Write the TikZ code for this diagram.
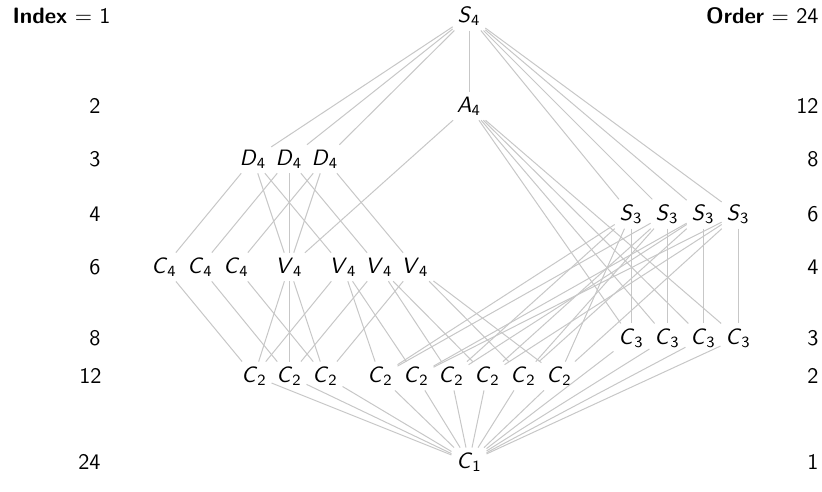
\documentclass[tikz,border=0pt]{standalone}
\newcommand\gr[2]{\textit{#1}\textsubscript{#2}}
\begin{document}
\begin{tikzpicture}[x=0.45pt,y=-0.45pt,
  grp/.style={font=\sffamily, inner sep=2pt},
  lat/.style={draw=black!22, line width=0.45pt},
  lbl/.style={font=\sffamily, anchor=east, inner sep=0pt}]
\useasboundingbox (0,0) rectangle (822,492);
% side labels
\node[lbl] (il1) at (111,16)  {\textbf{Index} $=$ 1};
\node[lbl] (il2) at (101,106) {2};
\node[lbl] (il3) at (101,159) {3};
\node[lbl] (il4) at (101,214) {4};
\node[lbl] (il6) at (101,267) {6};
\node[lbl] (il8) at (101,338) {8};
\node[lbl] (il12) at (102,376) {12};
\node[lbl] (il24) at (101,462) {24};
\node[lbl] (or24) at (819,16)  {\textbf{Order} $=$ 24};
\node[lbl] (or12) at (819,106) {12};
\node[lbl] (or8) at (819,159) {8};
\node[lbl] (or6) at (819,214) {6};
\node[lbl] (or4) at (819,267) {4};
\node[lbl] (or3) at (819,338) {3};
\node[lbl] (or2) at (819,376) {2};
\node[lbl] (or1) at (819,462) {1};
% groups
\node[grp] (S4) at (469,16) {\gr{S}{4}};
\node[grp] (A4) at (469,106) {\gr{A}{4}};
\node[grp] (D1) at (253,159) {\gr{D}{4}};
\node[grp] (D2) at (289,159) {\gr{D}{4}};
\node[grp] (D3) at (325,159) {\gr{D}{4}};
\node[grp] (S1) at (631,214) {\gr{S}{3}};
\node[grp] (S2) at (667,214) {\gr{S}{3}};
\node[grp] (S3) at (703,214) {\gr{S}{3}};
\node[grp] (S5) at (738,214) {\gr{S}{3}};
\node[grp] (Q1) at (164,267) {\gr{C}{4}};
\node[grp] (Q2) at (200,267) {\gr{C}{4}};
\node[grp] (Q3) at (236,267) {\gr{C}{4}};
\node[grp] (V1) at (289,267) {\gr{V}{4}};
\node[grp] (V2) at (343,267) {\gr{V}{4}};
\node[grp] (V3) at (379,267) {\gr{V}{4}};
\node[grp] (V4) at (415,267) {\gr{V}{4}};
\node[grp] (T1) at (631,338) {\gr{C}{3}};
\node[grp] (T2) at (667,338) {\gr{C}{3}};
\node[grp] (T3) at (703,338) {\gr{C}{3}};
\node[grp] (T4) at (738,338) {\gr{C}{3}};
\node[grp] (K1) at (254,376) {\gr{C}{2}};
\node[grp] (K2) at (289,376) {\gr{C}{2}};
\node[grp] (K3) at (325,376) {\gr{C}{2}};
\node[grp] (K4) at (380,376) {\gr{C}{2}};
\node[grp] (K5) at (416,376) {\gr{C}{2}};
\node[grp] (K6) at (451,376) {\gr{C}{2}};
\node[grp] (K7) at (487,376) {\gr{C}{2}};
\node[grp] (K8) at (523,376) {\gr{C}{2}};
\node[grp] (K9) at (559,376) {\gr{C}{2}};
\node[grp] (E) at (469,462) {\gr{C}{1}};
% edges
\foreach \a/\b in {S4/D1,S4/D2,S4/D3,S4/A4,S4/S1,S4/S2,S4/S3,S4/S5,
  A4/V1,A4/T1,A4/T2,A4/T3,A4/T4,
  D1/Q1,D1/V1,D1/V2,D2/Q2,D2/V1,D2/V3,D3/Q3,D3/V1,D3/V4,
  S1/T1,S2/T2,S3/T3,S5/T4,
  S1/K4,S1/K6,S1/K9,S2/K4,S2/K7,S2/K8,S3/K5,S3/K6,S3/K8,S5/K5,S5/K7,S5/K9,
  Q1/K1,Q2/K2,Q3/K3,V1/K1,V1/K2,V1/K3,
  V2/K1,V2/K4,V2/K5,V3/K2,V3/K6,V3/K7,V4/K3,V4/K8,V4/K9,
  K1/E,K2/E,K3/E,K4/E,K5/E,K6/E,K7/E,K8/E,K9/E,T1/E,T2/E,T3/E,T4/E}
  \draw[lat] (\a) -- (\b);
\end{tikzpicture}
\end{document}
